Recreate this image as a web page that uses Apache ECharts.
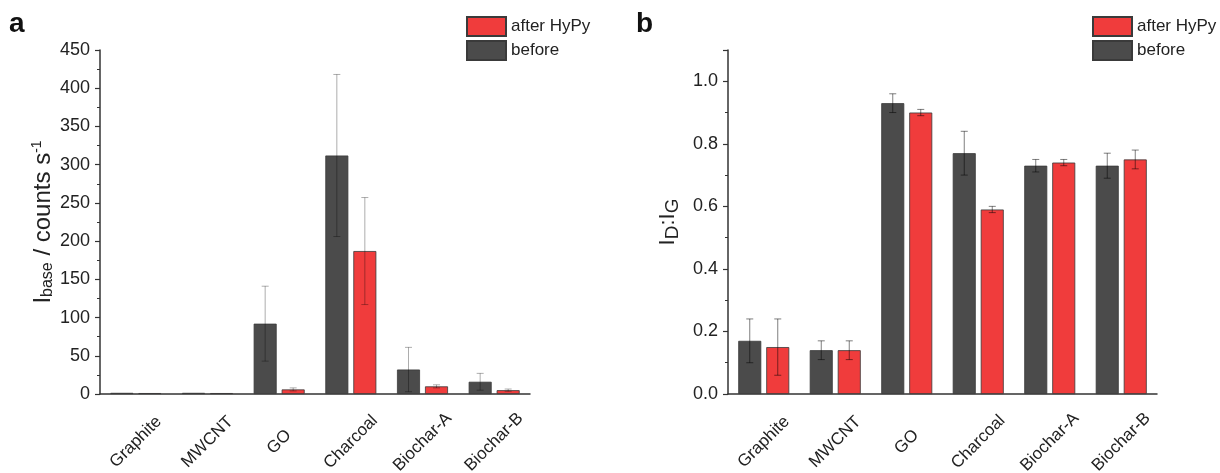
<!DOCTYPE html>
<html><head><meta charset="utf-8">
<script src="https://cdn.jsdelivr.net/npm/echarts@6/dist/echarts.min.js"></script>
<style>html,body{margin:0;padding:0;background:#fff}#c{width:1220px;height:473px}</style>
</head><body><div id="c"></div>
<script>
const categories = ['Graphite','MWCNT','GO','Charcoal','Biochar-A','Biochar-B'];
const baseBefore    = [1.5, 1.5, 92, 312, 32, 16];
const baseBeforeErr = [0, 0, 49, 106, 29, 11];
const baseAfter     = [1.2, 1.2, 6, 187, 10, 5];
const baseAfterErr  = [0, 0, 2, 70, 2, 1.5];
const ratioBefore    = [0.17, 0.14, 0.93, 0.77, 0.73, 0.73];
const ratioBeforeErr = [0.07, 0.03, 0.03, 0.07, 0.02, 0.04];
const ratioAfter     = [0.15, 0.14, 0.90, 0.59, 0.74, 0.75];
const ratioAfterErr  = [0.09, 0.03, 0.01, 0.01, 0.01, 0.03];
const legendNames = ['after HyPy', 'before'];

const FONT = 'Liberation Sans, Arial, sans-serif';
const DARK = '#4b4b4b', RED = '#f03c3c';
const BAR_W = 23, BAR_GAP = 5;
const OFF = (BAR_W + BAR_GAP) / 2;

const chart = echarts.init(document.getElementById('c'), null, {renderer: 'canvas'});

function errSeries(vals, errs, xi, yi, side, color) {
  return {
    type: 'custom', xAxisIndex: xi, yAxisIndex: yi, z: 10, silent: true,
    data: vals.map((v, i) => [i, v, errs[i]]),
    renderItem: function (params, api) {
      const e = api.value(2);
      if (!e) return null;
      const v = api.value(1), i = api.value(0);
      const p0 = api.coord([i, v]);
      const x = p0[0] + side * OFF;
      const yt = api.coord([i, v + e])[1];
      const yb = api.coord([i, Math.max(0, v - e)])[1];
      const st = {stroke: color, lineWidth: 1};
      return {type: 'group', children: [
        {type: 'line', shape: {x1: x, y1: yt, x2: x, y2: yb}, style: st},
        {type: 'line', shape: {x1: x - 3.5, y1: yt, x2: x + 3.5, y2: yt}, style: st},
        {type: 'line', shape: {x1: x - 3.5, y1: yb, x2: x + 3.5, y2: yb}, style: st}
      ]};
    }
  };
}

function barSeries(name, vals, xi, yi, color) {
  return {
    name: name, type: 'bar', xAxisIndex: xi, yAxisIndex: yi,
    data: vals, barWidth: BAR_W, barGap: (BAR_GAP / BAR_W * 100) + '%',
    itemStyle: {color: color, borderColor: '#3a3a3a', borderWidth: 0.8},
    emphasis: {disabled: true}
  };
}

const axisLineStyle = {color: '#333', width: 1.5};
function xAxisCfg(gi) {
  return {
    type: 'category', gridIndex: gi, data: categories,
    axisLine: {lineStyle: axisLineStyle}, axisTick: {show: false},
    axisLabel: {rotate: 45, align: 'center', verticalAlign: 'middle', margin: 48,
      fontSize: 17, color: '#222', fontFamily: FONT, interval: 0}
  };
}
function yAxisCfg(gi, min, max, interval, nameRich, gap, mainSize, subSize, supSize) {
  return {
    type: 'value', gridIndex: gi, min: min, max: max, interval: interval,
    axisLine: {show: true, lineStyle: axisLineStyle},
    axisTick: {show: true, length: 5, lineStyle: {color: '#333', width: 1.2}},
    minorTick: {show: true, splitNumber: 2, length: 3, lineStyle: {color: '#333', width: 1}},
    splitLine: {show: false},
    axisLabel: {fontSize: 18, color: '#222', fontFamily: FONT, margin: 10,
      showMaxLabel: gi === 0,
      formatter: gi === 1 ? (v => v.toFixed(1)) : (v => String(v))},
    name: nameRich, nameLocation: 'middle', nameRotate: 90, nameGap: gap,
    nameTextStyle: {fontFamily: FONT, color: '#222', fontSize: mainSize,
      rich: {
        m: {fontSize: mainSize, fontFamily: FONT, color: '#222'},
        sub: {fontSize: subSize, fontFamily: FONT, color: '#222', verticalAlign: 'bottom', padding: [10, 0, 0, 0]},
        sup: {fontSize: supSize, fontFamily: FONT, color: '#222', verticalAlign: 'top', padding: [0, 0, 11, 0]}
      }}
  };
}

const legendText = {fontSize: 17, color: '#222', fontFamily: FONT};
const option = {
  animation: false,
  backgroundColor: '#fff',
  grid: [
    {left: 100, top: 50, width: 430, height: 344, outerBoundsMode: 'none', containLabel: false},
    {left: 728, top: 50, width: 429, height: 344, outerBoundsMode: 'none', containLabel: false}
  ],
  xAxis: [xAxisCfg(0), xAxisCfg(1)],
  yAxis: [
    yAxisCfg(0, 0, 450, 50, '{m|I}{sub|base}{m| / counts s}{sup|-1}', 44, 24, 16, 14),
    yAxisCfg(1, 0, 1.1, 0.2, '{m|I}{sub|D}{m|:I}{sub|G}', 46, 22, 19, 14)
  ],
  legend: [
    {data: legendNames, orient: 'vertical', left: 461, top: 11, itemWidth: 39, itemHeight: 19, itemGap: 3,
      textStyle: legendText, selectedMode: false, icon: 'rect'},
    {data: legendNames, orient: 'vertical', left: 1087, top: 11, itemWidth: 39, itemHeight: 19, itemGap: 3,
      textStyle: legendText, selectedMode: false, icon: 'rect'}
  ],
  graphic: [
    {type: 'text', left: 9, top: 10, style: {text: 'a', font: 'bold 28px ' + FONT, fill: '#111'}},
    {type: 'text', left: 636, top: 10, style: {text: 'b', font: 'bold 28px ' + FONT, fill: '#111'}}
  ],
  series: [
    barSeries('before', baseBefore, 0, 0, DARK),
    barSeries('after HyPy', baseAfter, 0, 0, RED),
    barSeries('before', ratioBefore, 1, 1, DARK),
    barSeries('after HyPy', ratioAfter, 1, 1, RED),
    errSeries(baseBefore, baseBeforeErr, 0, 0, -1, 'rgba(0,0,0,0.32)'),
    errSeries(baseAfter, baseAfterErr, 0, 0, 1, 'rgba(0,0,0,0.32)'),
    errSeries(ratioBefore, ratioBeforeErr, 1, 1, -1, 'rgba(0,0,0,0.5)'),
    errSeries(ratioAfter, ratioAfterErr, 1, 1, 1, 'rgba(0,0,0,0.5)')
  ]
};
chart.setOption(option);
</script></body></html>
